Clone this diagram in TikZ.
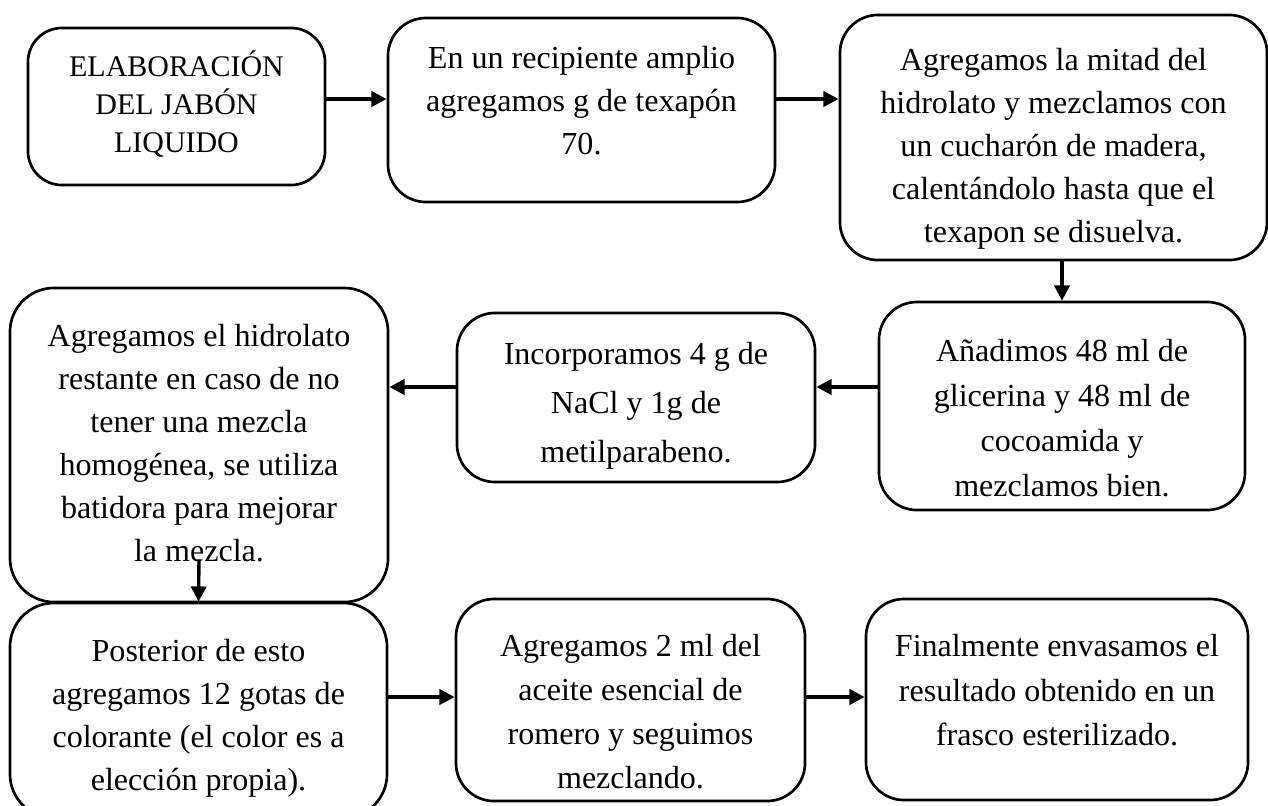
\documentclass[tikz,border=0pt]{standalone}
\usepackage{fontspec}
\setmainfont{Liberation Serif}
\usetikzlibrary{arrows.meta}
% text block moved up (+) or down (-) inside its box
\newcommand{\bloque}[2]{\raisebox{#1}[\height][\depth]{\begin{tabular}{@{}c@{}}#2\end{tabular}}}

\begin{document}
\begin{tikzpicture}[
    x=0.025cm, y=-0.025cm,
    box/.style={draw, line width=1.9pt, rounded corners=0.95cm, align=center, inner sep=0pt,
        font=\fontsize{22.8}{30.6}\selectfont},
    arrow/.style={-{Triangle[length=0.38cm,width=0.38cm]}, line width=2.4pt}
]
    \useasboundingbox[fill=white] (0,0) rectangle (1268,805);

    % first row
    \node[box, minimum width=7.425cm, minimum height=3.925cm, rounded corners=0.85cm,
        font=\fontsize{21.3}{27}\selectfont] (elab) at (176.5,106.5) {\bloque{0cm}{ELABORACIÓN\\DEL JABÓN\\LIQUIDO}};
    \node[box, minimum width=9.675cm, minimum height=4.6cm] (texapon) at (581.5,110) {\bloque{0.175cm}{En un recipiente amplio\\agregamos g de texapón\\70.}};
    \node[box, minimum width=10.675cm, minimum height=6.125cm] (mitad) at (1053.5,137.5) {\bloque{-0.25cm}{Agregamos la mitad del\\hidrolato y mezclamos con\\un cucharón de madera,\\calentándolo hasta que el\\texapon se disuelva.}};

    % second row
    \node[box, minimum width=9.15cm, minimum height=5.2cm, font=\fontsize{22.8}{32}\selectfont] (glicerina) at (1062,406) {\bloque{-0.35cm}{Añadimos 48 ml de\\glicerina y 48 ml de\\cocoamida y\\mezclamos bien.}};
    \node[box, minimum width=8.95cm, minimum height=4.225cm, font=\fontsize{22.8}{35}\selectfont] (nacl) at (636,397.5) {\bloque{-0.15cm}{Incorporamos 4 g de\\NaCl y 1g de\\metilparabeno.}};
    \node[box, minimum width=9.45cm, minimum height=7.85cm, rounded corners=1.1cm] (restante) at (199,445) {\bloque{0cm}{Agregamos el hidrolato\\restante en caso de no\\tener una mezcla\\homogénea, se utiliza\\batidora para mejorar\\la mezcla.}};

    % third row
    \node[box, minimum width=9.425cm, minimum height=5.375cm, rounded corners=1.1cm] (colorante) at (198.5,710.5) {\bloque{-0.175cm}{Posterior de esto\\agregamos 12 gotas de\\colorante (el color es a\\elección propia).}};
    \node[box, minimum width=8.725cm, minimum height=5.05cm, font=\fontsize{22.8}{31.3}\selectfont] (romero) at (630.5,700) {\bloque{-0.35cm}{Agregamos 2 ml del\\aceite esencial de\\romero y seguimos\\mezclando.}};
    \node[box, minimum width=9.55cm, minimum height=5.025cm, font=\fontsize{22.8}{31.6}\selectfont] (envase) at (1057,699.5) {\bloque{0.175cm}{Finalmente envasamos el\\resultado obtenido en un\\frasco esterilizado.}};

    \coordinate (fila1) at (0,99);
    \coordinate (fila2) at (0,387);
    \coordinate (fila3) at (0,697);

    \draw[arrow] (elab.east |- fila1) -- (texapon.west |- fila1);
    \draw[arrow] (texapon.east |- fila1) -- (mitad.west |- fila1);
    \draw[arrow] (glicerina.north |- mitad.south) -- (glicerina.north);
    \draw[arrow] (glicerina.west |- fila2) -- (nacl.east |- fila2);
    \draw[arrow] (nacl.west |- fila2) -- (restante.east |- fila2);
    \draw[arrow] ([yshift=1.1cm]restante.south) -- (colorante.north);
    \draw[arrow] (colorante.east |- fila3) -- (romero.west |- fila3);
    \draw[arrow] (romero.east |- fila3) -- (envase.west |- fila3);
\end{tikzpicture}
\end{document}
